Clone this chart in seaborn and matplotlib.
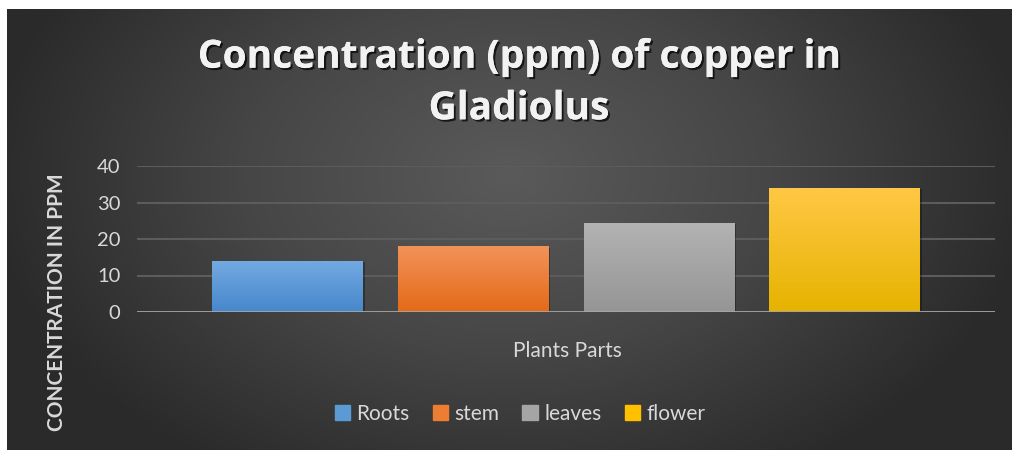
import numpy as np
import pandas as pd
import seaborn as sns
import matplotlib.pyplot as plt
import matplotlib.patheffects as pe
from matplotlib.patches import Rectangle
from matplotlib.colors import LinearSegmentedColormap

# data
parts = ['Roots', 'stem', 'leaves', 'flower']
concentration = [14, 18, 24.4, 34]
colors = ['#5b9bd5', '#ed7d31', '#a5a5a5', '#ffc000']
tops = ['#74aae2', '#f2925a', '#b3b3b3', '#ffc845']
bottoms = ['#4687cb', '#e46a17', '#959595', '#e6b300']
y_ticks = [0, 10, 20, 30, 40]

TITLE = 'Concentration (ppm) of copper in\nGladiolus'
X_LABEL = 'Plants Parts'
Y_LABEL = 'CONCENTRATION IN PPM'
TXT = '#d9d9d9'

sns.set_style('dark')
plt.rcParams['font.family'] = ['Lato', 'DejaVu Sans']

fig = plt.figure(figsize=(10.13, 4.5), dpi=100)
fig.patch.set_facecolor('white')

# radial gradient background panel
bg = fig.add_axes([7 / 1013, 0, 1004 / 1013, 441 / 450])
bg.set_axis_off()
gx, gy = np.meshgrid(np.linspace(-1, 1, 400), np.linspace(-1, 1, 200))
r = np.sqrt(((gx - 0.0) / 1.05) ** 2 + ((gy - 0.25) / 1.6) ** 2)
r = np.clip(r, 0, 1)
bg_cmap = LinearSegmentedColormap.from_list('bg', ['#5a5a5a', '#464646', '#2a2a2a'])
bg.imshow(r, cmap=bg_cmap, aspect='auto', extent=[0, 1, 0, 1], origin='lower', vmin=0, vmax=1)

ax = fig.add_axes([137 / 1013, 138 / 450, 858 / 1013, 146 / 450])
ax.patch.set_alpha(0)
df = pd.DataFrame({'part': parts, 'value': concentration})
sns.barplot(ax=ax, data=df, x='part', y='value', hue='part', palette=colors,
            width=0.81, legend=False, saturation=1, linewidth=0, zorder=3)

# vertical gradient inside every bar, plus a soft shadow
for patch, top, bot in zip(ax.patches, tops, bottoms):
    patch.set_path_effects([pe.withSimplePatchShadow(offset=(1.5, -1), shadow_rgbFace='black', alpha=0.3),
                            pe.Normal()])
    x0, y0 = patch.get_x(), patch.get_y()
    w, h = patch.get_width(), patch.get_height()
    cm = LinearSegmentedColormap.from_list('g', [bot, top])
    grad = np.linspace(0, 1, 100).reshape(-1, 1)
    im = ax.imshow(grad, cmap=cm, aspect='auto', extent=[x0, x0 + w, y0, y0 + h],
                   origin='lower', zorder=3.5)
    im.set_clip_path(patch)

ax.set_xlim(-0.81, 3.81)
ax.set_ylim(0, 40)
ax.set_yticks(y_ticks)
ax.set_xticks([])
ax.set_xlabel('')
ax.set_ylabel('')
for s in ax.spines.values():
    s.set_visible(False)
ax.grid(False)
for t in y_ticks[1:]:
    ax.axhline(t, color='#5c5c5c', lw=1.5, zorder=1)
ax.axhline(0, color='#a6a6a6', lw=2, zorder=4)
ax.tick_params(axis='y', length=0, pad=12, labelsize=14.5, labelcolor=TXT)

shadow = [pe.withSimplePatchShadow(offset=(1.5, -1.5), shadow_rgbFace='black', alpha=0.7), pe.Normal()]
fig.text(0.512, 1 - 83 / 450, TITLE, ha='center', va='center', fontsize=28, fontweight='bold',
         color='#f2f2f2', linespacing=1.42, path_effects=shadow, family=['Open Sans', 'DejaVu Sans'])

fig.text(567 / 1013, 1 - 351 / 450, X_LABEL, ha='center', va='center', fontsize=15, color=TXT)
fig.text(57 / 1013, 1 - 302 / 450, Y_LABEL, ha='center', va='center', rotation=90,
         fontsize=15, fontweight='bold', color=TXT)

handles = [Rectangle((0, 0), 1, 1, color=c) for c in colors]
fig.legend(handles, parts, loc='center', bbox_to_anchor=(520 / 1013, 1 - 414 / 450), ncol=4,
           frameon=False, fontsize=15, labelcolor=TXT, handlelength=0.75, handleheight=0.75,
           handletextpad=0.3, columnspacing=1.1)

fig.savefig('out.png', dpi=100)
